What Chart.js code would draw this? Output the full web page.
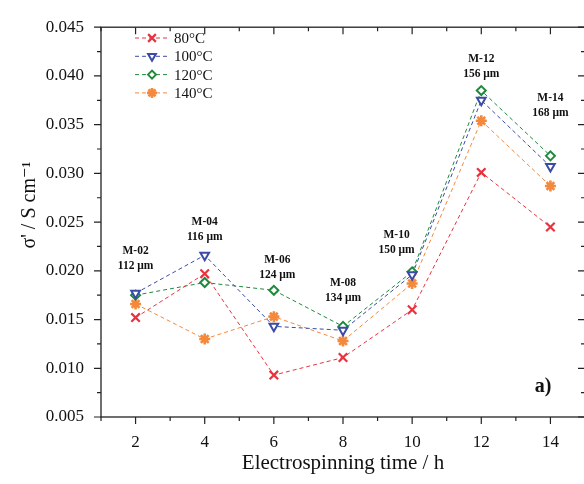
<!DOCTYPE html>
<html>
<head>
<meta charset="utf-8">
<script src="https://cdn.jsdelivr.net/npm/chart.js@4/dist/chart.umd.min.js"></script>
<style>
  html, body { margin: 0; padding: 0; background: #fff; overflow: hidden; }
  #wrap { width: 600px; height: 484px; }
</style>
</head>
<body>
<div id="wrap"><canvas id="chart" width="600" height="484"></canvas></div>
<script>
// データ
const times = [2, 4, 6, 8, 10, 12, 14];
const s80 = [0.0152, 0.0197, 0.0093, 0.0111, 0.0160, 0.0301, 0.0245];
const s100 = [0.0177, 0.0216, 0.0143, 0.0139, 0.0196, 0.0375, 0.0307];
const s120 = [0.0175, 0.0188, 0.0180, 0.0143, 0.0199, 0.0385, 0.0318];
const s140 = [0.0166, 0.0130, 0.0153, 0.0128, 0.0187, 0.0354, 0.0287];
const seriesNames = ['80°C', '100°C', '120°C', '140°C'];

// サンプル名と膜厚
const samples = ['M-02', 'M-04', 'M-06', 'M-08', 'M-10', 'M-12', 'M-14'];
const thickness = ['112 μm', '116 μm', '124 μm', '134 μm', '150 μm', '156 μm', '168 μm'];
const labelX = [2, 4, 6.1, 8, 9.55, 12, 14];
const labelY = [0.0220, 0.0250, 0.0211, 0.0187, 0.0237, 0.0417, 0.0377];

const SERIF = "'Liberation Serif', 'DejaVu Serif', serif";
const colors = ['#e8333f', '#3b4ba6', '#1f8a3c', '#f4883b'];

function toPoints(arr) {
  return times.map((t, i) => ({ x: t, y: arr[i] }));
}

function makeSet(idx, values, style, radius, rotation, fill, bw) {
  return {
    label: seriesNames[idx],
    data: toPoints(values),
    borderColor: colors[idx],
    borderWidth: 1,
    borderDash: [4, 3],
    pointStyle: style,
    pointRadius: radius,
    pointRotation: rotation,
    pointBorderWidth: bw,
    pointBorderColor: colors[idx],
    pointBackgroundColor: fill,
    tension: 0,
    fill: false
  };
}

// 枠・目盛り・注釈・凡例
const framePlugin = {
  id: 'frame',
  afterDraw(chart) {
    const { ctx, chartArea: a, scales } = chart;
    const xs = scales.x, ys = scales.y;
    ctx.save();
    ctx.strokeStyle = '#222';
    ctx.lineWidth = 1.3;
    ctx.strokeRect(a.left, a.top, a.right - a.left, a.bottom - a.top);
    ctx.lineWidth = 1.2;
    ctx.beginPath();
    for (let v = 1; v <= 15; v++) {
      const px = xs.getPixelForValue(v);
      const len = v % 2 === 0 ? 7 : 4;
      ctx.moveTo(px, a.bottom); ctx.lineTo(px, a.bottom + len);
      ctx.moveTo(px, a.top); ctx.lineTo(px, a.top + len);
    }
    for (let k = 0; k <= 16; k++) {
      const v = 0.005 + k * 0.0025;
      const py = ys.getPixelForValue(v);
      const len = k % 2 === 0 ? 7 : 4;
      ctx.moveTo(a.left, py); ctx.lineTo(a.left - len, py);
      ctx.moveTo(a.right, py); ctx.lineTo(a.right - len, py);
    }
    ctx.stroke();

    // y軸タイトル
    ctx.fillStyle = '#111';
    ctx.save();
    ctx.translate(30, 205);
    ctx.rotate(-Math.PI / 2);
    ctx.font = '20px ' + SERIF;
    ctx.textAlign = 'center';
    ctx.textBaseline = 'middle';
    ctx.fillText("σ' / S cm⁻¹", 0, 0);
    ctx.restore();

    // 注釈
    ctx.font = 'bold 11.5px ' + SERIF;
    ctx.textAlign = 'center';
    ctx.textBaseline = 'middle';
    samples.forEach((s, i) => {
      const px = xs.getPixelForValue(labelX[i]);
      const py = ys.getPixelForValue(labelY[i]);
      ctx.fillText(s, px, py);
      ctx.fillText(thickness[i], px, py + 15);
    });

    ctx.font = 'bold 20px ' + SERIF;
    ctx.fillText('a)', 543, 387);

    // 凡例
    chart.data.datasets.forEach((ds, i) => {
      const y = 38 + i * 18.3;
      ctx.strokeStyle = ds.borderColor;
      ctx.lineWidth = 1;
      ctx.setLineDash([4, 3]);
      ctx.beginPath();
      ctx.moveTo(135, y); ctx.lineTo(170, y);
      ctx.stroke();
      ctx.setLineDash([]);
      ctx.lineWidth = ds.pointBorderWidth;
      ctx.fillStyle = ds.pointBackgroundColor;
      Chart.helpers.drawPoint(ctx, {
        pointStyle: ds.pointStyle,
        radius: ds.pointRadius - 0.5,
        rotation: ds.pointRotation,
        borderWidth: ds.pointBorderWidth
      }, 152, y);
      ctx.fillStyle = '#111';
      ctx.font = '15px ' + SERIF;
      ctx.textAlign = 'left';
      ctx.fillText(ds.label, 174, y + 1);
    });
    ctx.restore();
  }
};

const chart = new Chart(document.getElementById('chart'), {
  type: 'line',
  data: {
    datasets: [
      makeSet(0, s80, 'crossRot', 6, 0, colors[0], 2.2),
      makeSet(1, s100, 'triangle', 5, 180, '#fff', 2),
      makeSet(2, s120, 'rectRot', 4.5, 0, '#fff', 2),
      makeSet(3, s140, 'star', 5.5, 0, colors[3], 2.6)
    ]
  },
  options: {
    responsive: false,
    animation: false,
    layout: { padding: { top: 20, right: 13.25, bottom: 0, left: 0 } },
    plugins: { legend: { display: false }, tooltip: { enabled: false } },
    scales: {
      x: {
        type: 'linear',
        min: 1,
        max: 15,
        grid: { display: false, drawTicks: false },
        border: { display: false },
        afterFit: (scale) => { scale.height = 67; },
        ticks: {
          stepSize: 1,
          autoSkip: false,
          maxRotation: 0,
          padding: 15,
          color: '#111',
          font: { family: SERIF, size: 17 },
          callback: (v) => (v % 2 === 0 ? v : '')
        },
        title: {
          display: true,
          text: 'Electrospinning time / h',
          color: '#111',
          font: { family: SERIF, size: 21 },
          padding: { top: 0, bottom: 8 }
        }
      },
      y: {
        min: 0.005,
        max: 0.045,
        grid: { display: false, drawTicks: false },
        border: { display: false },
        afterFit: (scale) => { scale.width = 101; },
        ticks: {
          stepSize: 0.005,
          padding: 17,
          color: '#111',
          font: { family: SERIF, size: 17 },
          callback: (v) => v.toFixed(3)
        }
      }
    }
  },
  plugins: [framePlugin]
});
</script>
</body>
</html>
